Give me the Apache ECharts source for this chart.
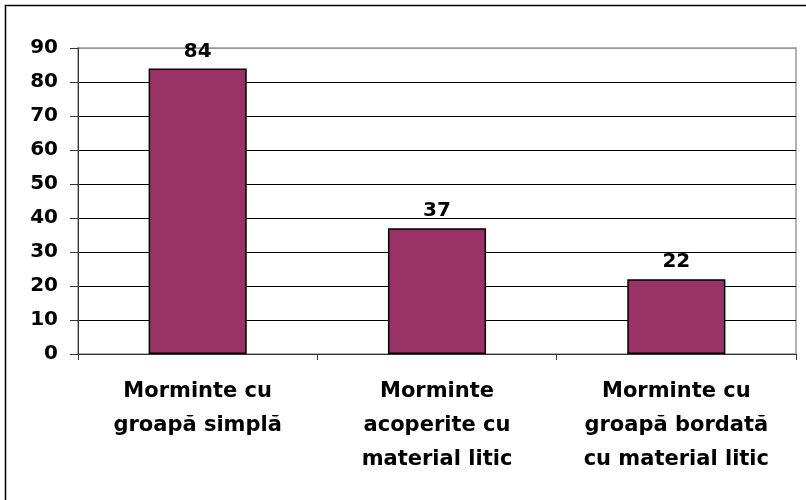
<!DOCTYPE html>
<html>
<head>
<meta charset="utf-8">
<script src="https://cdn.jsdelivr.net/npm/echarts@6/dist/echarts.min.js"></script>
<style>
html, body { margin: 0; padding: 0; background: #fff; }
#container { width: 806px; height: 500px; }
</style>
</head>
<body>
<div id="container"></div>
<script>
var categories = ['Morminte cu\ngroapă simplă', 'Morminte\nacoperite cu\nmaterial litic', 'Morminte cu\ngroapă bordată\ncu material litic'];
var values = [84, 37, 22];
var yTicks = { min: 0, max: 90, interval: 10 };

var myChart = echarts.init(document.getElementById('container'));

var font = '"DejaVu Sans", Arial, sans-serif';

// last grid line (at max) is part of the grey plot-area frame
var splitColors = [];
for (var i = yTicks.min; i < yTicks.max; i += yTicks.interval) splitColors.push('#000');
splitColors.push('#999');

var option = {
    animation: false,
    backgroundColor: '#fff',
    graphic: [{
        type: 'rect',
        shape: { x: 5.5, y: 5.5, width: 810, height: 510 },
        style: { fill: 'none', stroke: '#000', lineWidth: 1.5 },
        silent: true
    }],
    grid: {
        left: 78, top: 48, right: 10, bottom: 146,
        show: true, borderColor: '#999', borderWidth: 1.5
    },
    xAxis: {
        type: 'category',
        data: categories,
        axisLine: { lineStyle: { color: '#333', width: 1 } },
        axisTick: { show: true, interval: 0, length: 6, lineStyle: { color: '#333' } },
        axisLabel: {
            interval: 0,
            hideOverlap: false,
            color: '#000',
            fontFamily: font,
            fontWeight: 'bold',
            fontSize: 21,
            lineHeight: 34,
            margin: 21
        }
    },
    yAxis: {
        type: 'value',
        min: yTicks.min,
        max: yTicks.max,
        interval: yTicks.interval,
        axisLine: { show: true, lineStyle: { color: '#333', width: 1 } },
        axisTick: { show: true, length: 8, lineStyle: { color: '#333' } },
        axisLabel: {
            color: '#000',
            fontFamily: font,
            fontWeight: 'bold',
            fontSize: 20,
            margin: 20
        },
        splitLine: { lineStyle: { color: splitColors, width: 1 } }
    },
    series: [{
        type: 'bar',
        data: values,
        barWidth: '41%',
        itemStyle: { color: '#993366', borderColor: '#000', borderWidth: 1.5 },
        label: {
            show: true,
            position: 'top',
            distance: 7,
            color: '#000',
            fontFamily: font,
            fontWeight: 'bold',
            fontSize: 20
        }
    }]
};

myChart.setOption(option);
</script>
</body>
</html>
